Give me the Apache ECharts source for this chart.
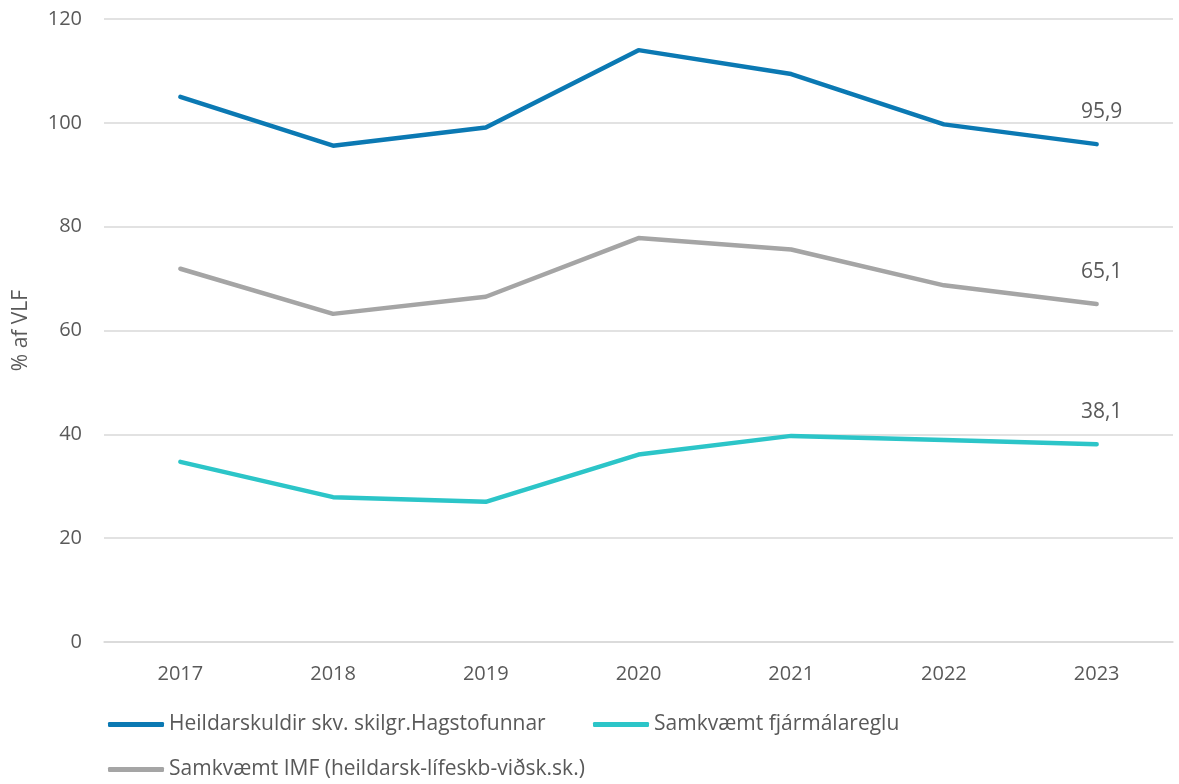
<!DOCTYPE html>
<html>
<head>
<meta charset="utf-8">
<script src="https://cdn.jsdelivr.net/npm/echarts@6/dist/echarts.min.js"></script>
<style>
  html, body { margin: 0; padding: 0; background: #ffffff; }
  #chart { width: 1179px; height: 784px; }
</style>
</head>
<body>
<div id="chart"></div>
<script>
// data
const years = ['2017', '2018', '2019', '2020', '2021', '2022', '2023']
const heildarskuldir = [105.0, 95.6, 99.1, 114.0, 109.4, 99.7, 95.9]
const fjarmalaregla = [34.7, 27.9, 27.0, 36.1, 39.7, 38.9, 38.1]
const imf = [71.9, 63.2, 66.5, 77.8, 75.6, 68.7, 65.1]
const seriesNames = [
  'Heildarskuldir skv. skilgr.Hagstofunnar',
  'Samkvæmt fjármálareglu',
  'Samkvæmt IMF (heildarsk-lífeskb-viðsk.sk.)'
]

const font = '"Open Sans", "Noto Sans", sans-serif'
const textColor = '#595959'
const gridColor = '#d9d9d9'

function lastLabel(p) {
  return p.dataIndex === years.length - 1 ? Number(p.value).toFixed(1).replace('.', ',') : ''
}

function makeSeries(name, data, color) {
  return {
    name: name,
    type: 'line',
    data: data,
    symbol: 'circle',
    symbolSize: 0,
    showSymbol: true,
    lineStyle: { color: color, width: 4.5, cap: 'round' },
    itemStyle: { color: color },
    label: {
      show: true,
      position: 'top',
      distance: 22,
      offset: [5, 0],
      formatter: lastLabel,
      color: textColor,
      fontFamily: font,
      fontSize: 21
    }
  }
}

function makeLegend(name, left, top) {
  return {
    data: [name],
    left: left,
    top: top,
    icon: 'roundRect',
    itemWidth: 56,
    itemHeight: 5,
    padding: 0,
    textStyle: { color: textColor, fontFamily: font, fontSize: 21 }
  }
}

var myChart = echarts.init(document.getElementById('chart'))
myChart.setOption({
  animation: false,
  backgroundColor: '#ffffff',
  grid: { left: 104, right: 6, top: 19, bottom: 142 },
  legend: [
    makeLegend(seriesNames[0], 108, 714),
    makeLegend(seriesNames[1], 593, 714),
    makeLegend(seriesNames[2], 108, 759)
  ],
  xAxis: {
    type: 'category',
    data: years,
    boundaryGap: true,
    axisLine: { show: true, lineStyle: { color: gridColor, width: 1.5 } },
    axisTick: { show: false },
    axisLabel: { color: textColor, fontFamily: font, fontSize: 20, margin: 22 }
  },
  yAxis: {
    type: 'value',
    min: 0,
    max: 120,
    interval: 20,
    name: '% af VLF',
    nameLocation: 'middle',
    nameGap: 72,
    nameTextStyle: { color: textColor, fontFamily: font, fontSize: 21 },
    axisLine: { show: false },
    axisTick: { show: false },
    axisLabel: { color: textColor, fontFamily: font, fontSize: 20, margin: 22 },
    splitLine: { lineStyle: { color: gridColor, width: 1.5 } }
  },
  series: [
    makeSeries(seriesNames[0], heildarskuldir, '#0b79b3'),
    makeSeries(seriesNames[1], fjarmalaregla, '#2cc5c8'),
    makeSeries(seriesNames[2], imf, '#a5a5a5')
  ]
})
</script>
</body>
</html>
